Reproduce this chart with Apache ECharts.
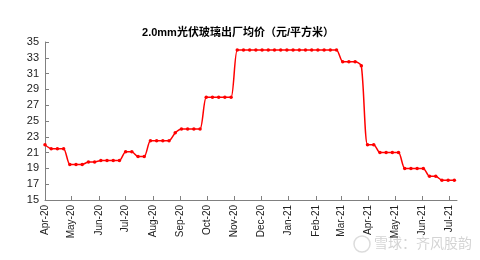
<!DOCTYPE html>
<html>
<head>
<meta charset="utf-8">
<script src="https://cdn.jsdelivr.net/npm/echarts@6/dist/echarts.min.js"></script>
<style>html,body{margin:0;padding:0;background:#fff;}#c{width:480px;height:260px;}</style>
</head>
<body>
<div id="c"></div>
<script>
var titleText = '2.0mm光伏玻璃出厂均价（元/平方米）';
var dates = [
 '2020-04-01','2020-04-08','2020-04-15','2020-04-22','2020-04-29',
 '2020-05-06','2020-05-13','2020-05-20','2020-05-27',
 '2020-06-03','2020-06-10','2020-06-17','2020-06-24',
 '2020-07-01','2020-07-08','2020-07-15','2020-07-22','2020-07-29',
 '2020-08-05','2020-08-12','2020-08-19','2020-08-26',
 '2020-09-02','2020-09-09','2020-09-16','2020-09-23','2020-09-30',
 '2020-10-07','2020-10-14','2020-10-21','2020-10-28',
 '2020-11-04','2020-11-11','2020-11-18','2020-11-25',
 '2020-12-02','2020-12-09','2020-12-16','2020-12-23','2020-12-30',
 '2021-01-06','2021-01-13','2021-01-20','2021-01-27',
 '2021-02-03','2021-02-10','2021-02-17','2021-02-24',
 '2021-03-03','2021-03-10','2021-03-17','2021-03-24','2021-03-31',
 '2021-04-07','2021-04-14','2021-04-21','2021-04-28',
 '2021-05-05','2021-05-12','2021-05-19','2021-05-26',
 '2021-06-02','2021-06-09','2021-06-16','2021-06-23','2021-06-30',
 '2021-07-07'
];
var prices = [
 22.0,21.5,21.5,21.5,19.5,
 19.5,19.5,19.8,19.8,
 20.0,20.0,20.0,20.0,
 21.1,21.1,20.5,20.5,22.5,
 22.5,22.5,22.5,23.5,
 24.0,24.0,24.0,24.0,28.0,
 28.0,28.0,28.0,28.0,
 34.0,34.0,34.0,34.0,
 34.0,34.0,34.0,34.0,34.0,
 34.0,34.0,34.0,34.0,
 34.0,34.0,34.0,34.0,
 32.5,32.5,32.5,32.0,22.0,
 22.0,21.0,21.0,21.0,
 21.0,19.0,19.0,19.0,
 19.0,18.0,18.0,17.5,17.5,
 17.5
];
var yTicks = [15,17,19,21,23,25,27,29,31,33,35];
var monthNames = ['Jan','Feb','Mar','Apr','May','Jun','Jul','Aug','Sep','Oct','Nov','Dec'];
var xMin = '2020-04-01';
var xMax = '2021-07-10';

var chart = echarts.init(document.getElementById('c'), null, {renderer:'canvas'});
chart.setOption({
  animation: false,
  backgroundColor: '#ffffff',
  title: {
    text: titleText,
    left: 233, top: 22, textAlign: 'center',
    textStyle: {fontFamily: 'Arial, "Noto Sans CJK SC", sans-serif', fontSize: 11, fontWeight: 'bold', color: '#000'}
  },
  grid: {left: 45, right: 23, top: 42, bottom: 60},
  xAxis: {
    type: 'time',
    min: xMin, max: xMax,
    minInterval: 28*86400000, maxInterval: 31*86400000,
    axisLine: {lineStyle: {color: '#808080', width: 1}},
    axisTick: {show: true, inside: true, length: 4, lineStyle: {color: '#808080'}},
    splitLine: {show: false},
    axisLabel: {
      rotate: 90, fontSize: 10, color: '#222', margin: 5,
      fontFamily: 'Arial, "Liberation Sans", sans-serif',
      showMaxLabel: false,
      hideOverlap: false,
      formatter: function (v) {
        var d = new Date(v);
        if (d.getDate() !== 1) return '';
        return monthNames[d.getMonth()] + '-' + String(d.getFullYear()).slice(2);
      }
    }
  },
  yAxis: {
    type: 'value', min: yTicks[0], max: yTicks[yTicks.length-1], interval: 2,
    axisLine: {show: true, lineStyle: {color: '#808080', width: 1}},
    axisTick: {show: true, inside: true, length: 4, lineStyle: {color: '#808080'}},
    splitLine: {show: false},
    axisLabel: {fontSize: 11, color: '#222', margin: 6, fontFamily: 'Arial, "Liberation Sans", sans-serif'}
  },
  graphic: [{
    type: 'text', left: 374, top: 236,
    style: {text: '雪球：齐风股韵', fontSize: 14, fill: '#d4d4d4', fontFamily: '"Noto Sans CJK SC", sans-serif'}
  }, {
    type: 'circle', shape: {cx: 362, cy: 244, r: 8}, style: {fill: 'none', stroke: '#dcdcdc', lineWidth: 1.5}
  }],
  series: [{
    type: 'line',
    data: dates.map(function (d, i) { return [d, prices[i]]; }),
    smooth: 0.25,
    symbol: 'circle', symbolSize: 3.5,
    lineStyle: {color: '#ff0000', width: 1.5},
    itemStyle: {color: '#ff0000'}
  }]
});
</script>
</body>
</html>
